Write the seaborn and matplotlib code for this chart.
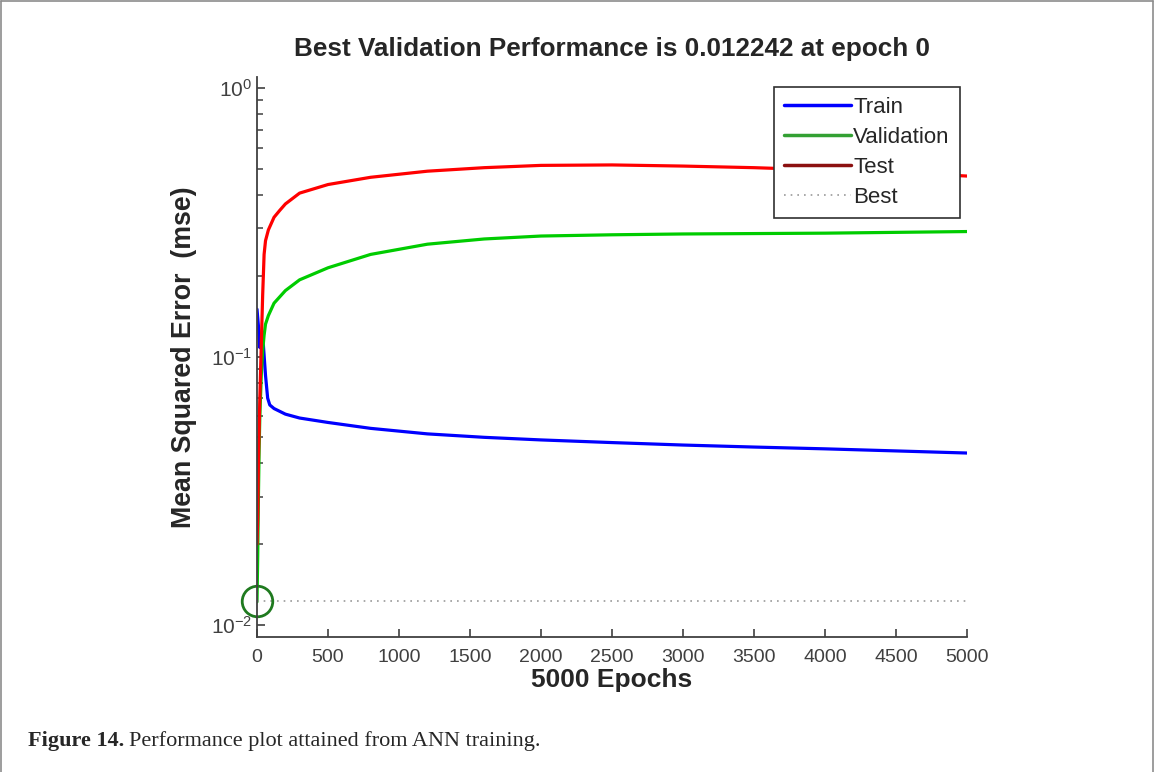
import numpy as np
import pandas as pd
import matplotlib
matplotlib.use("Agg")
import matplotlib.pyplot as plt
import seaborn as sns
from matplotlib.lines import Line2D

# ---- data ----
train_epochs = [0, 10, 20, 30, 45, 60, 75, 90, 120, 200, 300, 500, 800, 1200, 1600, 2000, 2500, 3000, 3500, 4000, 4500, 5000]
train_mse = [0.15, 0.13, 0.108, 0.12, 0.11, 0.085, 0.07, 0.066, 0.064, 0.061, 0.059, 0.0568, 0.054, 0.0515, 0.050, 0.0489,
             0.0478, 0.0468, 0.046, 0.0453, 0.0445, 0.0437]

val_epochs = [0, 5, 10, 15, 20, 30, 40, 50, 60, 80, 120, 200, 300, 500, 800, 1200, 1600, 2000, 2500, 3000, 4000, 5000]
val_mse = [0.0122, 0.018, 0.03, 0.045, 0.06, 0.085, 0.105, 0.12, 0.132, 0.142, 0.158, 0.176, 0.193, 0.214, 0.24, 0.262,
           0.274, 0.281, 0.284, 0.286, 0.288, 0.292]

test_epochs = [0, 5, 10, 20, 30, 40, 50, 60, 80, 120, 160, 200, 300, 500, 800, 1200, 1600, 2000, 2500, 3000, 3500, 4000, 4500, 5000]
test_mse = [0.02, 0.025, 0.04, 0.07, 0.11, 0.17, 0.24, 0.27, 0.296, 0.33, 0.35, 0.37, 0.406, 0.437, 0.465, 0.49, 0.505,
            0.515, 0.517, 0.512, 0.505, 0.495, 0.485, 0.47]

best_value = 0.012242
best_epoch = 0
series_names = ["Train", "Validation", "Test"]
series_colors = ["#0000ff", "#00cc00", "#ff0000"]
x_ticks = [0, 500, 1000, 1500, 2000, 2500, 3000, 3500, 4000, 4500, 5000]
title_text = "Best Validation Performance is 0.012242 at epoch 0"
x_label = "5000 Epochs"
y_label = "Mean Squared Error  (mse)"

df = pd.concat([
    pd.DataFrame({"epoch": train_epochs, "mse": train_mse, "set": "Train"}),
    pd.DataFrame({"epoch": val_epochs, "mse": val_mse, "set": "Validation"}),
    pd.DataFrame({"epoch": test_epochs, "mse": test_mse, "set": "Test"}),
], ignore_index=True)

sns.set_style("ticks")
plt.rcParams["font.family"] = ["Liberation Sans", "DejaVu Sans"]
plt.rcParams["xtick.direction"] = "in"
plt.rcParams["ytick.direction"] = "in"

fig = plt.figure(figsize=(11.54, 7.72), dpi=100)
ax = fig.add_axes([257 / 1154, 1 - 637 / 772, 710 / 1154, 560 / 772])

sns.lineplot(data=df, x="epoch", y="mse", hue="set", hue_order=series_names,
             palette=dict(zip(series_names, series_colors)), linewidth=2.3,
             errorbar=None, ax=ax, legend=False)

ax.set_yscale("log")
ax.set_ylim(10 ** (-2.0447), 10 ** 0.041)
ax.set_xlim(0, 5000)

# best line and circle
ax.plot([0, 5000], [best_value, best_value], linestyle=(0, (1, 3)), color="#999999", linewidth=1.2)
ax.plot([best_epoch], [best_value], marker="o", markersize=22, markerfacecolor="none",
        markeredgecolor="#1f7a1f", markeredgewidth=2, clip_on=False)

sns.despine(ax=ax)
for s in ["left", "bottom"]:
    ax.spines[s].set_color("#404040")
    ax.spines[s].set_linewidth(1.3)

ax.set_xticks(x_ticks)
ax.tick_params(axis="both", which="major", length=6, width=1.2, color="#404040",
               labelsize=14, labelcolor="#404040")
ax.tick_params(axis="y", which="major", labelsize=15)
ax.tick_params(axis="x", which="major", pad=9)
ax.tick_params(axis="y", which="minor", length=4, width=1.1, color="#404040")

ax.set_title(title_text, fontsize=18.8, fontweight="bold", pad=15)
ax.set_xlabel(x_label, fontsize=19, fontweight="bold", labelpad=1)
ax.set_ylabel(y_label, fontsize=19.3, fontweight="bold", labelpad=10)

handles = [Line2D([], [], color="#0000ff", lw=2.5),
           Line2D([], [], color="#33a033", lw=2.5),
           Line2D([], [], color="#8b1010", lw=2.5),
           Line2D([], [], color="#999999", lw=1.2, linestyle=(0, (1, 3)))]
leg = ax.legend(handles, ["Train", "Validation", "Test", "Best"], loc="upper right",
                bbox_to_anchor=(0.99, 0.982), borderaxespad=0, fontsize=16,
                handlelength=3.0, handletextpad=0.12, labelspacing=0.4,
                borderpad=0.45, fancybox=False, framealpha=1, edgecolor="#303030")
leg.get_frame().set_linewidth(1.2)

# figure frame
for xs, ys in [([0.001, 0.001], [0, 0.999]), ([0.001, 0.999], [0.999, 0.999]), ([0.999, 0.999], [0, 0.999])]:
    fig.add_artist(Line2D(xs, ys, transform=fig.transFigure, color="#8c8c8c", lw=1.2))

# caption
renderer = fig.canvas.get_renderer()
t1 = fig.text(28 / 1154, 1 - 741 / 772, "Figure 14.", fontsize=16, fontweight="bold",
              family=["Liberation Serif", "DejaVu Serif"], va="center", ha="left")
bb = t1.get_window_extent(renderer)
fig.text((bb.x1 + 5) / 1154, 1 - 741 / 772, "Performance plot attained from ANN training.", fontsize=16,
         family=["Liberation Serif", "DejaVu Serif"], va="center", ha="left")

fig.savefig("out.png", dpi=100)
